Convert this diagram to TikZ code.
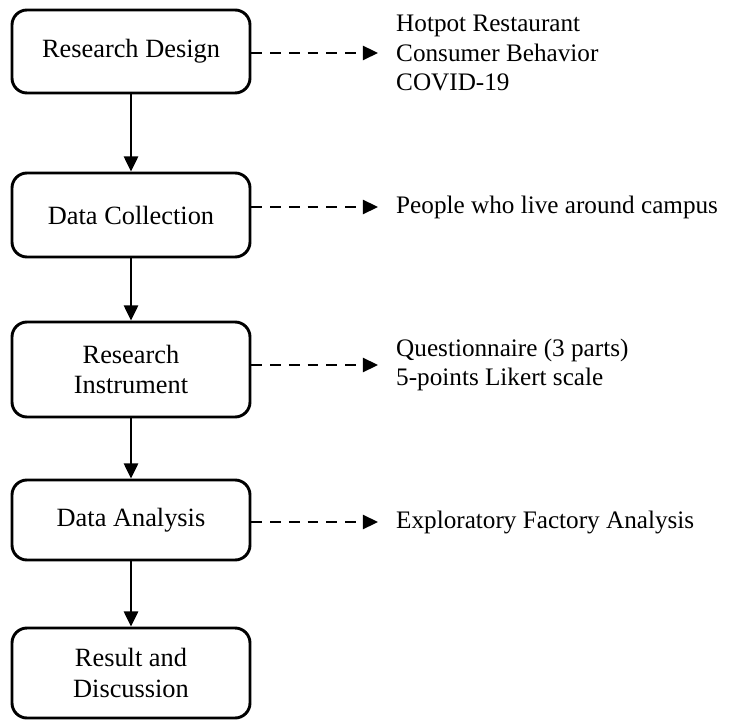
\documentclass[tikz,border=0pt]{standalone}
\usepackage{fontspec}
\setmainfont{Liberation Serif}
\usetikzlibrary{arrows.meta}
\tikzset{
	stage/.style={draw, line width=2.5pt, rounded corners=0.45cm, minimum width=7.14cm,
		align=center, font=\fontsize{22.5}{26}\selectfont},
	note/.style={anchor=west, inner xsep=0pt, align=left, font=\fontsize{21.5}{25.5}\selectfont},
	flow/.style={line width=2.5pt, -{Triangle[length=13pt,width=12pt]}},
	aside/.style={flow, dash pattern=on 9pt off 7pt, shorten >=0.54cm}
}
\begin{document}
\begin{tikzpicture}
	\useasboundingbox (0,0) rectangle (22.2,-21.63);
	% stages
	\node[stage, minimum height=2.49cm] (design) at (3.93,-1.545) {Research Design};
	\node[stage, minimum height=2.52cm] (collect) at (3.93,-6.45) {Data Collection};
	\node[stage, minimum height=2.85cm] (instr) at (3.93,-11.085) {Research\\Instrument};
	\node[stage, minimum height=2.4cm] (analysis) at (3.93,-15.6) {Data Analysis};
	\node[stage, minimum height=2.7cm] (result) at (3.93,-20.19) {Result and\\Discussion};
	
	% notes
	\node[note] (topic) at (11.88,-1.59) {Hotpot Restaurant\\Consumer Behavior\\COVID-19};
	\node[note] (people) at (11.88,-6.21) {People who live around campus};
	\node[note] (quest) at (11.88,-10.95) {Questionnaire (3 parts)\\5-points Likert scale};
	\node[note] (efa) at (11.88,-15.66) {Exploratory Factory Analysis};
	
	\draw[flow] (design.south) -- (collect.north);
	\draw[flow] (collect.south) -- (instr.north);
	\draw[flow] (instr.south) -- (analysis.north);
	\draw[flow] (analysis.south) -- (result.north);
	
	\draw[aside] (design.east |- topic.west) -- (topic.west);
	\draw[aside] (collect.east |- people.west) -- (people.west);
	\draw[aside] (instr.east |- quest.west) -- (quest.west);
	\draw[aside] (analysis.east |- efa.west) -- (efa.west);
\end{tikzpicture}
\end{document}
